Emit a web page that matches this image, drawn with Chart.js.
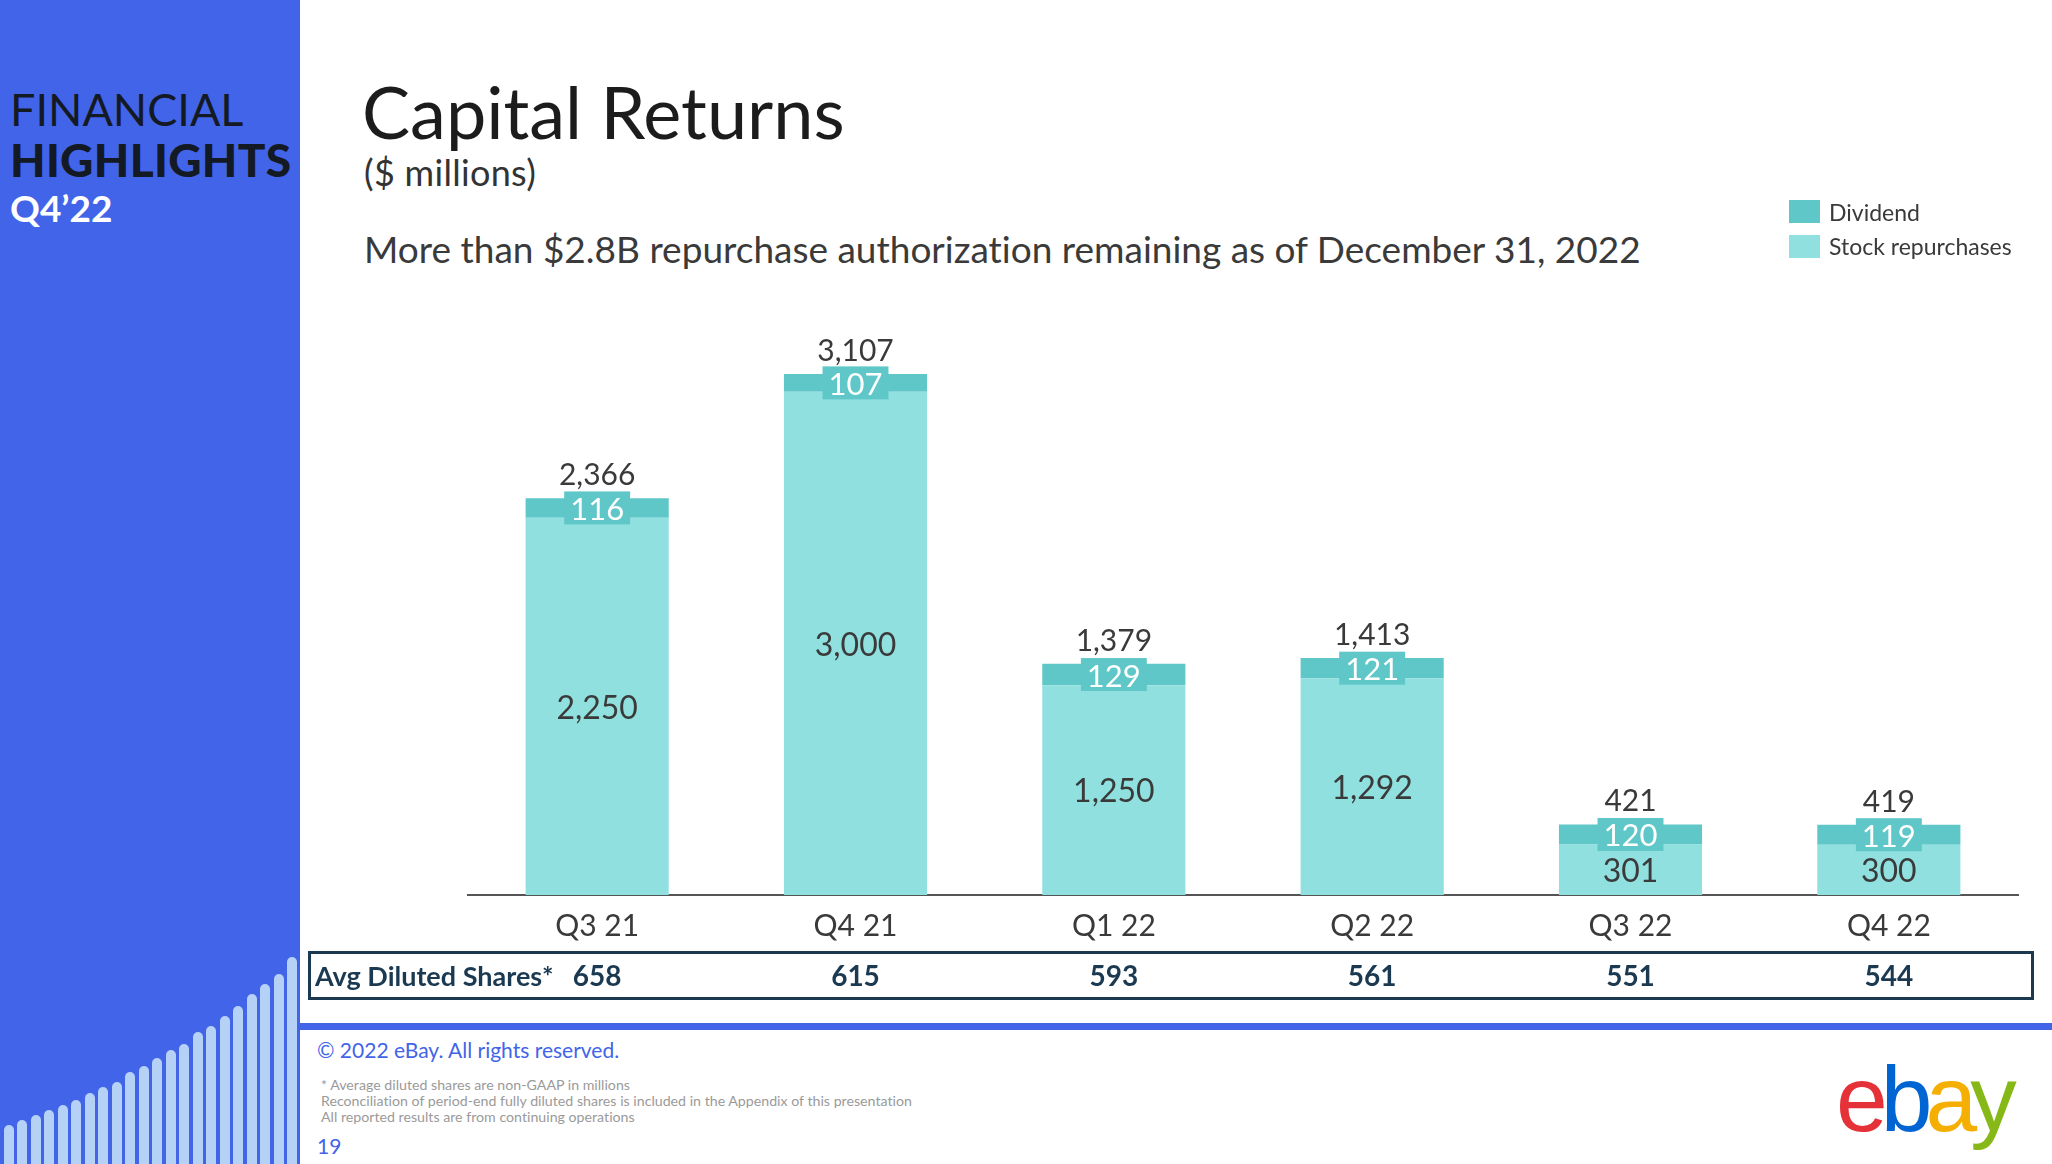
<!DOCTYPE html>
<html>
<head>
<meta charset="utf-8">
<script src="https://cdn.jsdelivr.net/npm/chart.js@4.4.1/dist/chart.umd.min.js"></script>
<style>
  html, body { margin:0; padding:0; background:#fff; }
  body { width:2052px; height:1164px; position:relative; overflow:hidden; font-family:Lato, "Noto Sans", sans-serif; font-variant-ligatures:none; }
  .abs { position:absolute; white-space:nowrap; line-height:1; }
  #panel { position:absolute; left:0; top:0; width:300px; height:1164px; background:#4264e9; overflow:hidden; }
  .pbar { position:absolute; width:10px; background:#b5d1f6; border-radius:5px 5px 0 0; }
  #rule { position:absolute; left:300px; top:1023px; width:1752px; height:7px; background:#4264e9; }
  canvas { position:absolute; left:0; top:0; }
</style>
</head>
<body>
<div id="panel">
  <div class="abs" style="left:10px; top:87px; font-size:45px; color:#141a24;">FINANCIAL</div>
  <div class="abs" style="left:10px; top:137px; font-size:46px; font-weight:900; color:#141a24; letter-spacing:0.3px;">HIGHLIGHTS</div>
  <div class="abs" style="left:10px; top:189px; font-size:37px; font-weight:700; color:#ffffff;">Q4’22</div>
</div>
<div id="rule"></div>
<div class="abs" style="left:362px; top:75px; font-size:72px; color:#1c1c1c;">Capital Returns</div>
<div class="abs" style="left:364px; top:154px; font-size:36px; color:#333; letter-spacing:0.3px;">($ millions)</div>
<div class="abs" style="left:364px; top:230px; font-size:37px; color:#3a3a3a;">More than $2.8B repurchase authorization remaining as of December 31, 2022</div>
<div class="abs" style="left:317px; top:1039px; font-size:21px; color:#4264e9;">© 2022 eBay. All rights reserved.</div>
<div class="abs" style="left:321px; top:1077px; font-size:14.2px; line-height:16px; color:#9a9a9a;">* Average diluted shares are non-GAAP in millions<br>Reconciliation of period-end fully diluted shares is included in the Appendix of this presentation<br>All reported results are from continuing operations</div>
<div class="abs" style="left:317px; top:1135px; font-size:21px; color:#4264e9;">19</div>
<div class="abs" style="left:1836px; top:1053px; font-size:93px; letter-spacing:-7px; font-family:'Liberation Sans', sans-serif;"><span style="color:#e53238">e</span><span style="color:#0064d2">b</span><span style="color:#f5af02">a</span><span style="color:#86b817">y</span></div>
<canvas id="c" width="2052" height="1164"></canvas>
<script>
// ---- data ----
const categories = ['Q3 21', 'Q4 21', 'Q1 22', 'Q2 22', 'Q3 22', 'Q4 22'];
const stockRepurchases = [2250, 3000, 1250, 1292, 301, 300];
const dividends = [116, 107, 129, 121, 120, 119];
const totals = [2366, 3107, 1379, 1413, 421, 419];
const avgDilutedShares = [658, 615, 593, 561, 551, 544];
const tableLabel = 'Avg Diluted Shares*';

// decorative panel bars (slide ornament, not chart data)
const panelBarTops = [1125,1120,1115,1110,1105,1100,1093,1087,1082,1072,1066,1058,1050,1044,1032,1026,1016,1006,994,984,974,957];
const panel = document.getElementById('panel');
panelBarTops.forEach((t, i) => {
  const d = document.createElement('div');
  d.className = 'pbar';
  d.style.left = (4 + i * 13.48) + 'px';
  d.style.top = t + 'px';
  d.style.height = (1164 - t + 10) + 'px';
  panel.appendChild(d);
});

const COL_DIV = '#5fc7c8';
const COL_REP = '#91e0e0';
const TXT = '#3a3a3a';
const NAVY = '#1b3a52';
const FONT = 'Lato, "Noto Sans", sans-serif';
const fmt = v => v.toLocaleString('en-US');

const labelsPlugin = {
  id: 'labels',
  afterDatasetsDraw(chart) {
    const ctx = chart.ctx;
    const repMeta = chart.getDatasetMeta(0);
    const divMeta = chart.getDatasetMeta(1);
    ctx.save();
    ctx.textAlign = 'center';
    // repurchase labels
    ctx.font = '32px ' + FONT;
    ctx.fillStyle = TXT;
    ctx.textBaseline = 'middle';
    repMeta.data.forEach((bar, i) => {
      ctx.fillText(fmt(stockRepurchases[i]), bar.x, (bar.y + bar.base) / 2 + 2);
    });
    // dividend labels in boxes
    ctx.font = '31px ' + FONT;
    divMeta.data.forEach((bar, i) => {
      const txt = fmt(dividends[i]);
      const w = ctx.measureText(txt).width + 12;
      const cy = (bar.y + bar.base) / 2;
      ctx.fillStyle = COL_DIV;
      ctx.fillRect(bar.x - w / 2, cy - 16.5, w, 33);
      ctx.fillStyle = '#ffffff';
      ctx.fillText(txt, bar.x, cy + 2);
    });
    // totals
    ctx.font = '30px ' + FONT;
    ctx.fillStyle = TXT;
    ctx.textBaseline = 'alphabetic';
    divMeta.data.forEach((bar, i) => {
      ctx.fillText(fmt(totals[i]), bar.x, bar.y - 13);
    });
    ctx.restore();
  },
  afterDraw(chart) {
    const ctx = chart.ctx;
    const xs = chart.scales.x;
    ctx.save();
    // legend (reverse dataset order)
    const ds = chart.data.datasets.slice().reverse();
    ctx.font = '23px ' + FONT;
    ctx.textBaseline = 'alphabetic';
    ctx.textAlign = 'left';
    ds.forEach((d, i) => {
      ctx.fillStyle = d.backgroundColor;
      ctx.fillRect(1789, 200 + i * 35, 31, 23);
      ctx.fillStyle = TXT;
      ctx.fillText(d.label, 1829, 221 + i * 34);
    });
    // table
    ctx.strokeStyle = NAVY;
    ctx.lineWidth = 3;
    ctx.strokeRect(309.5, 952.5, 1723, 46);
    ctx.fillStyle = NAVY;
    ctx.font = 'bold 27px ' + FONT;
    ctx.fillText(tableLabel, 315, 986);
    ctx.textAlign = 'center';
    ctx.font = 'bold 28px ' + FONT;
    avgDilutedShares.forEach((v, i) => {
      ctx.fillText(fmt(v), xs.getPixelForValue(i), 986);
    });
    ctx.restore();
  }
};

new Chart(document.getElementById('c'), {
  type: 'bar',
  data: {
    labels: categories,
    datasets: [
      { label: 'Stock repurchases', data: stockRepurchases, backgroundColor: COL_REP, stack: 's' },
      { label: 'Dividend', data: dividends, backgroundColor: COL_DIV, stack: 's' }
    ]
  },
  options: {
    responsive: false,
    animation: false,
    devicePixelRatio: 1,
    layout: { padding: { left: 468, right: 34, top: 308, bottom: 209 } },
    datasets: { bar: { barPercentage: 0.554, categoryPercentage: 1 } },
    plugins: { legend: { display: false }, tooltip: { enabled: false } },
    scales: {
      x: {
        stacked: true,
        grid: { display: false, drawTicks: false },
        border: { display: true, color: '#555', width: 2 },
        ticks: { font: { family: FONT, size: 30 }, color: TXT, padding: 13 },
        afterFit(s) { s.height = 60; }
      },
      y: { stacked: true, display: false, min: 0, max: 3500 }
    }
  },
  plugins: [labelsPlugin]
});
</script>
</body>
</html>
